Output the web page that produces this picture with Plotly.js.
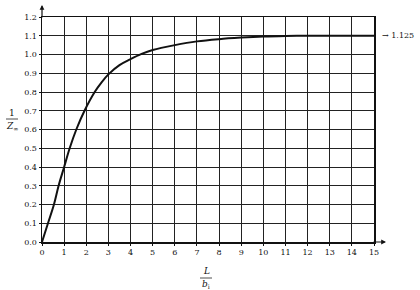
<!DOCTYPE html>
<html><head><meta charset="utf-8">
<script src="https://cdn.plot.ly/plotly-3.0.1.min.js"></script>
<style>html,body{margin:0;padding:0;background:#fff}#c{width:420px;height:290px}</style>
</head><body><div id="c"></div>
<script>
var ratioLb = [0, 0.27, 0.54, 0.75, 1.0, 1.25, 1.55, 1.92, 2.38, 2.7, 3.0, 3.5, 4, 4.5, 5, 6, 7, 8, 9, 10, 11, 12, 13, 14, 15];
var invZ = [0, 0.1, 0.2, 0.3, 0.4, 0.5, 0.6, 0.7, 0.8, 0.853, 0.894, 0.943, 0.975, 1.003, 1.024, 1.05, 1.07, 1.082, 1.09, 1.096, 1.099, 1.1, 1.1, 1.1, 1.1];
var xTicks = [0,1,2,3,4,5,6,7,8,9,10,11,12,13,14,15];
var yTicks = [0,0.1,0.2,0.3,0.4,0.5,0.6,0.7,0.8,0.9,1.0,1.1,1.2];
var yTickText = yTicks.map(function(v){return v.toFixed(1);});
var asymptoteLabel = '\u2192 1.125';

var font = {family: 'DejaVu Serif', size: 8, color: '#111'};
var labFont = {family: 'DejaVu Serif', size: 9, color: '#111'};
var data = [{
  x: ratioLb, y: invZ, type: 'scatter', mode: 'lines',
  line: {color: '#111', width: 2, shape: 'spline', smoothing: 1},
  hoverinfo: 'skip'
}];
var layout = {
  width: 420, height: 290,
  margin: {l: 42, r: 46, t: 17, b: 48},
  paper_bgcolor: '#fff', plot_bgcolor: '#fff',
  showlegend: false,
  font: font,
  xaxis: {range: [0, 15], tickvals: xTicks, ticktext: xTicks.map(String),
    showgrid: true, gridcolor: '#222', gridwidth: 1,
    showline: true, linecolor: '#111', linewidth: 1.5, mirror: true,
    zeroline: false, ticks: 'outside', ticklen: 2, tickcolor: '#111',
    tickfont: font, fixedrange: true},
  yaxis: {range: [0, 1.2], tickvals: yTicks, ticktext: yTickText,
    showgrid: true, gridcolor: '#222', gridwidth: 1,
    showline: true, linecolor: '#111', linewidth: 1.5, mirror: true,
    zeroline: false, ticks: 'outside', ticklen: 2, tickcolor: '#111',
    tickfont: font, fixedrange: true},
  annotations: [
    {xref: 'paper', yref: 'paper', x: 1 + 12/332, y: 0, ax: -14, ay: 0,
     axref: 'pixel', ayref: 'pixel', text: '', showarrow: true,
     arrowhead: 2, arrowsize: 0.8, arrowwidth: 1.2, arrowcolor: '#111'},
    {xref: 'paper', yref: 'paper', x: 0, y: 1 + 12/225, ax: 0, ay: 14,
     axref: 'pixel', ayref: 'pixel', text: '', showarrow: true,
     arrowhead: 2, arrowsize: 0.8, arrowwidth: 1.2, arrowcolor: '#111'},
    {xref: 'paper', yref: 'y', x: 1, y: 1.1, xanchor: 'left', xshift: 6,
     text: asymptoteLabel, showarrow: false, font: font},
    {xref: 'paper', yref: 'paper', x: -30/332, y: (242-113)/225, xanchor: 'center', yanchor: 'middle',
     text: '1', showarrow: false, font: labFont},
    {xref: 'paper', yref: 'paper', x: -30/332, y: (242-126)/225, xanchor: 'center', yanchor: 'middle',
     text: '<i>Z</i><sub>\u221e</sub>', showarrow: false, font: labFont},
    {xref: 'paper', yref: 'paper', x: (206-42)/332, y: (242-271)/225, xanchor: 'center', yanchor: 'middle',
     text: '<i>L</i>', showarrow: false, font: labFont},
    {xref: 'paper', yref: 'paper', x: (206-42)/332, y: (242-284)/225, xanchor: 'center', yanchor: 'middle',
     text: '<i>b</i><sub>i</sub>', showarrow: false, font: labFont}
  ],
  shapes: [
    {type: 'line', xref: 'paper', yref: 'paper', x0: -36/332, x1: -24/332,
     y0: (242-119)/225, y1: (242-119)/225, line: {color: '#222', width: 0.8}},
    {type: 'line', xref: 'paper', yref: 'paper', x0: (200-42)/332, x1: (212-42)/332,
     y0: (242-278)/225, y1: (242-278)/225, line: {color: '#222', width: 0.8}}
  ]
};
Plotly.newPlot('c', data, layout, {staticPlot: true, displayModeBar: false});
</script></body></html>
